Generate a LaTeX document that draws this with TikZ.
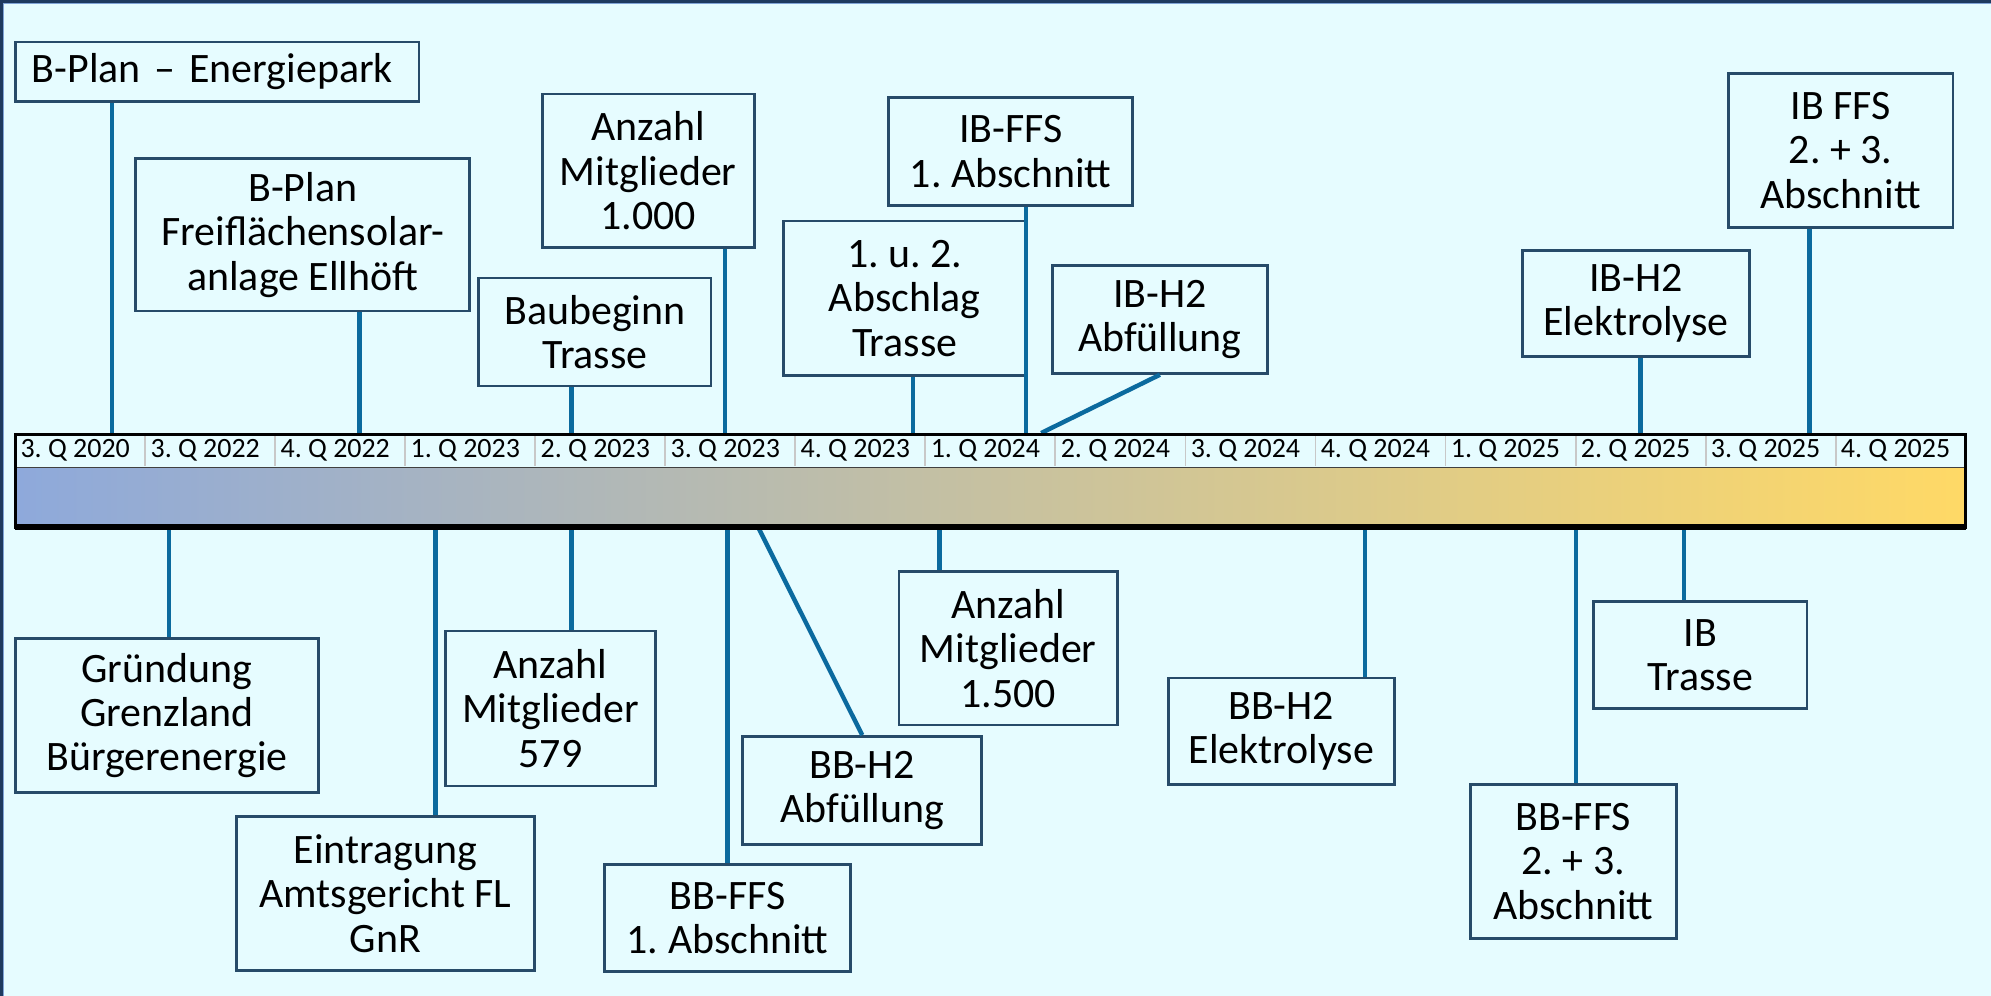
\documentclass[tikz,border=0pt]{standalone}
\usepackage{fontspec}
\setmainfont{Carlito}
\usepackage{xcolor}
\usetikzlibrary{
  positioning,
  calc
}
\frenchspacing
\definecolor{pageBg}{HTML}{E6FCFF}
\definecolor{frameNavy}{HTML}{1E3A5F}
\definecolor{frameLight}{HTML}{7FA3D6}
\definecolor{boxSlate}{HTML}{274B69}
\definecolor{linkBlue}{HTML}{0B6A9E}
\definecolor{barBlue}{HTML}{8EA9DB}
\definecolor{barGold}{HTML}{FFD966}
\definecolor{sepGray}{HTML}{C8C8C8}
\tikzset{
  evbox/.style  = {rectangle, draw=boxSlate, fill=pageBg, line width=2.2pt,
                   align=center, inner sep=0pt,
                   font=\fontsize{33}{35}\selectfont},
  link/.style   = {draw=linkBlue, line width=3.5pt},
  qlabel/.style = {anchor=west, inner sep=0pt,
                   font=\fontsize{22}{23}\selectfont},
  rowsep/.style = {draw=sepGray, line width=1.5pt}
}

\begin{document}
\begin{tikzpicture}[x=1pt, y=-1pt]
\useasboundingbox (0,0) rectangle (1568,784);
\fill[pageBg] (0,0) rectangle (1568,784);
\draw[frameNavy, line width=5pt] (0,784) -- (0,0) -- (1568,0);
\draw[frameLight, line width=0.8pt] (2.9,784) -- (2.9,2.9) -- (1568,2.9);

% boxes above the bar
\node[evbox, text width=292pt, align=left, inner xsep=13pt, minimum height=47pt]
  (bplanE) at (171,56.5) {B-Plan – Energiepark};
\node[evbox, minimum width=263pt, minimum height=120pt]
  (bplanF) at (238.5,185) {B-Plan\\Freiflächensolar-\\anlage Ellhöft};
\node[evbox, minimum width=167pt, minimum height=121pt]
  (mitgA) at (510.5,134.5) {Anzahl\\Mitglieder\\1.000};
\node[evbox, minimum width=183pt, minimum height=85pt]
  (baubeginn) at (468.5,261.5) {Baubeginn\\Trasse};
\node[evbox, minimum width=192pt, minimum height=85pt]
  (ibffsA) at (796,119.5) {IB-FFS\\1. Abschnitt};
\node[evbox, minimum width=191pt, minimum height=122pt]
  (abschlag) at (712.5,235) {1. u. 2.\\Abschlag\\Trasse};
\node[evbox, minimum width=169pt, minimum height=85pt]
  (ibhAbf) at (913.5,251.5) {IB-H2\\Abfüllung};
\node[evbox, minimum width=179pt, minimum height=84pt]
  (ibhEle) at (1288.5,239) {IB-H2\\Elektrolyse};
\node[evbox, minimum width=177pt, minimum height=121pt]
  (ibffsB) at (1449.5,118.5) {IB FFS\\2. + 3.\\Abschnitt};

% boxes below the bar
\node[evbox, minimum width=239pt, minimum height=121pt]
  (gruendung) at (131.5,563.5) {Gründung\\Grenzland\\Bürgerenergie};
\node[evbox, minimum width=235pt, minimum height=121pt]
  (eintragung) at (303.5,703.5) {Eintragung\\Amtsgericht FL\\GnR};
\node[evbox, minimum width=165pt, minimum height=122pt]
  (mitgB) at (433.5,558) {Anzahl\\Mitglieder\\579};
\node[evbox, minimum width=194pt, minimum height=84pt]
  (bbffsA) at (573,723) {BB-FFS\\1. Abschnitt};
\node[evbox, minimum width=188pt, minimum height=85pt]
  (bbhAbf) at (679,622.5) {BB-H2\\Abfüllung};
\node[evbox, minimum width=172pt, minimum height=121pt]
  (mitgC) at (794,510.5) {Anzahl\\Mitglieder\\1.500};
\node[evbox, minimum width=178pt, minimum height=84pt]
  (bbhEle) at (1009,576) {BB-H2\\Elektrolyse};
\node[evbox, minimum width=162pt, minimum height=121pt]
  (bbffsB) at (1239,678.5) {BB-FFS\\2. + 3.\\Abschnitt};
\node[evbox, minimum width=168pt, minimum height=84pt]
  (ibtrasse) at (1339,516) {IB\\Trasse};

% connectors
\foreach \b/\x in {bplanE/88, bplanF/283, baubeginn/450, mitgA/571,
                   abschlag/719, ibffsA/808, ibhEle/1292, ibffsB/1425}{
  \coordinate (top-\b) at (\x,342);
  \draw[link] (\b.south -| top-\b) -- (top-\b);
}
\coordinate (top-ibhAbf) at (820,341);
\draw[link] (ibhAbf.south) -- (top-ibhAbf);
\foreach \b/\x in {gruendung/133, eintragung/343, mitgB/450, bbffsA/573,
                   mitgC/740, bbhEle/1075, bbffsB/1241, ibtrasse/1326}{
  \coordinate (bot-\b) at (\x,415);
  \draw[link] (bot-\b) -- (\b.north -| bot-\b);
}
\coordinate (bot-bbhAbf) at (597,415);
\draw[link] (bot-bbhAbf) -- (bbhAbf.north);

% timeline bar
\fill[pageBg] (12,342) rectangle (1548,368);
\shade[left color=barBlue, right color=barGold] (12,368) rectangle (1548,415);
\foreach \k in {1,...,14}
  \draw[rowsep] ({12+\k*102.4},343) -- ({12+\k*102.4},367);
\foreach \q [count=\i from 0] in {3. Q 2020, 3. Q 2022, 4. Q 2022, 1. Q 2023,
    2. Q 2023, 3. Q 2023, 4. Q 2023, 1. Q 2024, 2. Q 2024, 3. Q 2024,
    4. Q 2024, 1. Q 2025, 2. Q 2025, 3. Q 2025, 4. Q 2025}
  \node[qlabel] (q\i) at ({16+\i*102.4},355) {\q};
\draw[black!75, line width=1pt] (12,368) -- (1548,368);
\draw[black, line width=2.5pt] (12,342) rectangle (1548,415);
\draw[black, line width=4pt] (12,415) -- (1548,415);
\end{tikzpicture}
\end{document}
